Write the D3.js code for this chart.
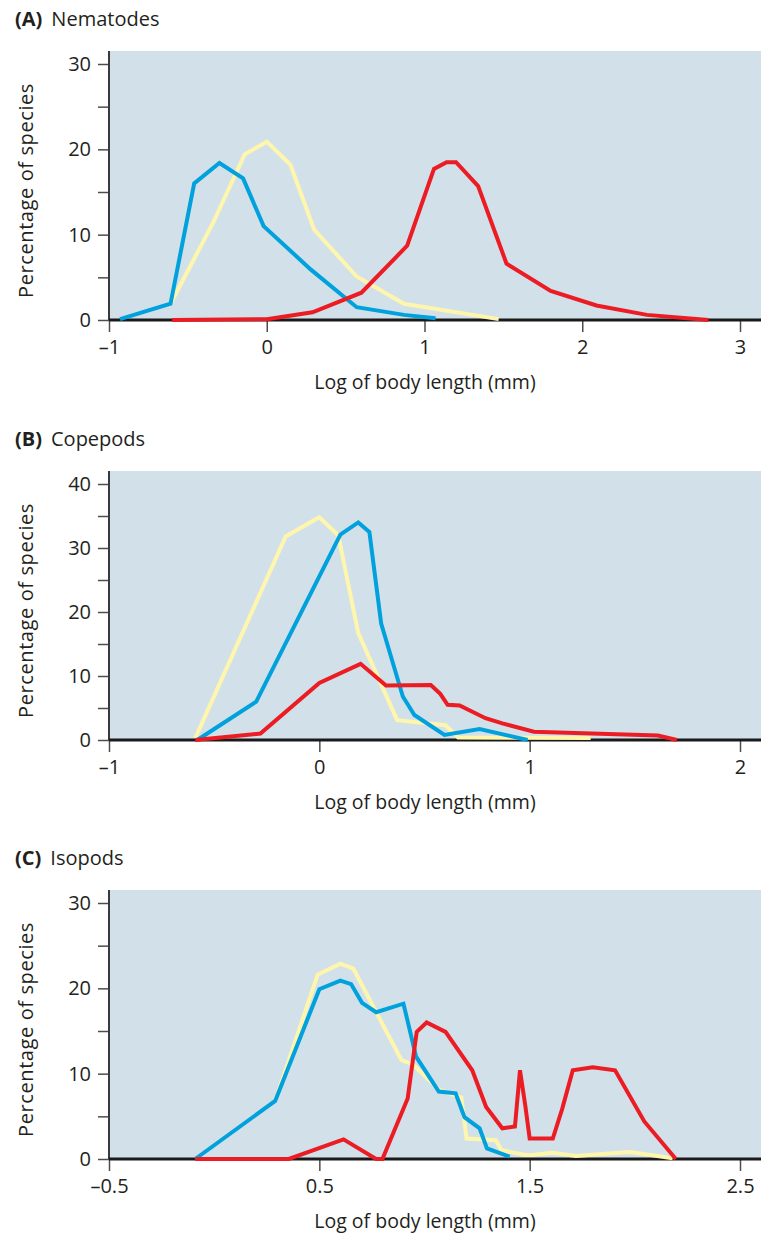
<!DOCTYPE html>
<html lang="en">
<head>
<meta charset="UTF-8">
<title>Body length distributions</title>
<script src="https://d3js.org/d3.v7.min.js"></script>
<style>
  body { margin: 0; background: #fff; }
  svg { display: block; font-family: "Open Sans", "Noto Sans", sans-serif; }
  .tick text { font-size: 20px; fill: #231f20; font-family: "Open Sans", sans-serif; }
</style>
</head>
<body>
<svg id="chart" width="761" height="1234"></svg>
<script>
// ---- data: [log body length (mm), % of species] ----

// (A) Nematodes
var nemaYellow = [[-0.61,1.9],[-0.34,11.4],[-0.14,19.4],[0,20.9],[0.15,18.2],[0.30,10.6],[0.57,5.1],[0.87,1.9],[1.47,0.1]];
var nemaBlue = [[-0.93,0.1],[-0.61,1.9],[-0.46,16.0],[-0.30,18.4],[-0.15,16.6],[-0.02,11.0],[0.28,5.9],[0.57,1.5],[0.87,0.6],[1.07,0.2]];
var nemaRed = [[-0.60,0],[0,0.1],[0.29,0.9],[0.60,3.2],[0.89,8.7],[1.06,17.7],[1.14,18.5],[1.20,18.5],[1.34,15.7],[1.52,6.6],[1.80,3.4],[2.09,1.7],[2.41,0.6],[2.80,0]];

// (B) Copepods
var copeYellow = [[-0.59,0.3],[-0.16,31.8],[0,34.8],[0.09,32.0],[0.185,16.7],[0.37,3.1],[0.60,2.3],[0.66,0.4],[1.29,0.3]];
var copeBlue = [[-0.58,0],[-0.30,6.0],[0.10,32.1],[0.185,34.0],[0.238,32.5],[0.294,18.2],[0.397,6.8],[0.452,3.9],[0.595,0.8],[0.762,1.7],[0.99,0]];
var copeRed = [[-0.59,0],[-0.28,1.0],[0,8.9],[0.196,11.9],[0.317,8.5],[0.53,8.6],[0.575,7.2],[0.61,5.5],[0.667,5.4],[0.79,3.4],[0.87,2.6],[1.02,1.3],[1.61,0.7],[1.70,0]];

// (C) Isopods
var isoYellow = [[0.29,6.8],[0.492,21.6],[0.60,22.9],[0.662,22.3],[0.89,11.6],[0.944,11.1],[1.07,8.1],[1.175,7.2],[1.20,2.4],[1.34,2.2],[1.365,1.05],[1.48,0.47],[1.514,0.47],[1.606,0.74],[1.72,0.35],[1.976,0.82],[2.18,0.08]];
var isoBlue = [[-0.09,0],[0.29,6.8],[0.50,19.9],[0.60,20.9],[0.651,20.5],[0.703,18.3],[0.77,17.2],[0.90,18.2],[0.96,12.0],[1.068,7.9],[1.148,7.7],[1.19,4.9],[1.262,3.6],[1.297,1.25],[1.405,0.27]];
var isoRed = [[-0.09,0],[0.355,0],[0.615,2.3],[0.77,0],[0.80,0],[0.92,7.1],[0.963,14.9],[1.01,16.0],[1.10,14.9],[1.227,10.4],[1.293,6.1],[1.37,3.6],[1.43,3.8],[1.454,10.4],[1.479,6.3],[1.50,2.4],[1.61,2.4],[1.655,5.9],[1.705,10.4],[1.80,10.75],[1.906,10.4],[2.045,4.4],[2.195,0]];

// tick values
var xTicksA = [-1, 0, 1, 2, 3];
var xTicksB = [-1, 0, 1, 2];
var xTicksC = [-0.5, 0.5, 1.5, 2.5];
var yTicks30 = [0, 5, 10, 15, 20, 25, 30];
var yTicks40 = [0, 5, 10, 15, 20, 25, 30, 35, 40];

var colors = {yellow: '#fff6ad', blue: '#00a1dd', red: '#ec1c24'};

var panels = [
    {letter: '(A)', name: 'Nematodes', top: 51, zero: 320, xDomain: [-1, 3], xTicks: xTicksA, yMax: 30, yTicks: yTicks30,
     series: [{d: nemaYellow, c: colors.yellow}, {d: nemaBlue, c: colors.blue}, {d: nemaRed, c: colors.red}]},
    {letter: '(B)', name: 'Copepods', top: 471, zero: 740, xDomain: [-1, 2], xTicks: xTicksB, yMax: 40, yTicks: yTicks40,
     series: [{d: copeYellow, c: colors.yellow}, {d: copeBlue, c: colors.blue}, {d: copeRed, c: colors.red}]},
    {letter: '(C)', name: 'Isopods', top: 890, zero: 1159, xDomain: [-0.5, 2.5], xTicks: xTicksC, yMax: 30, yTicks: yTicks30,
     series: [{d: isoYellow, c: colors.yellow}, {d: isoBlue, c: colors.blue}, {d: isoRed, c: colors.red}]}
];

var svg = d3.select('#chart');
var left = 109, right = 761, xEnd = 740;

function dash(v) {
    // en dash for negatives like the print figure
    return String(v).replace('-', '\u2013');
}

panels.forEach(function(p) {
    var g = svg.append('g');
    var yTopVal = p.yMax === 40 ? 484 : p.zero - 256; // top tick position
    var x = d3.scaleLinear().domain(p.xDomain).range([left, xEnd]);
    var y = d3.scaleLinear().domain([0, p.yMax]).range([p.zero, yTopVal]);

    // background
    g.append('rect')
        .attr('x', left).attr('y', p.top)
        .attr('width', right - left).attr('height', p.zero - p.top)
        .attr('fill', '#d2e1e9');

    // title
    var t = g.append('text').attr('x', 15).attr('y', p.top - 25)
        .style('font-size', '20px').style('fill', '#231f20');
    t.append('tspan').attr('font-weight', 'bold').text(p.letter);
    t.append('tspan').attr('dx', 9).text(p.name);

    // y axis
    var yAxis = d3.axisLeft(y).tickValues(p.yTicks).tickSize(11).tickPadding(7)
        .tickFormat(function(d) { return d % 10 === 0 ? d : ''; });
    var ya = g.append('g').attr('transform', 'translate(' + left + ',0)').call(yAxis);
    ya.select('.domain').remove();
    ya.selectAll('.tick line').attr('stroke', '#4d4d4f').attr('stroke-width', 1.5);
    g.append('line').attr('x1', left).attr('x2', left).attr('y1', p.top).attr('y2', p.zero)
        .attr('stroke', '#3a3a3c').attr('stroke-width', 2);

    // x axis
    var xAxis = d3.axisBottom(x).tickValues(p.xTicks).tickSize(12).tickPadding(8).tickFormat(dash);
    var xa = g.append('g').attr('transform', 'translate(0,' + p.zero + ')').call(xAxis);
    xa.select('.domain').remove();
    xa.selectAll('.tick line').attr('stroke', '#4d4d4f').attr('stroke-width', 1.5);
    g.append('line').attr('x1', left).attr('x2', right).attr('y1', p.zero).attr('y2', p.zero)
        .attr('stroke', '#1a1a1a').attr('stroke-width', 3);

    // lines
    var line = d3.line().x(function(d) { return x(d[0]); }).y(function(d) { return y(d[1]); });
    p.series.forEach(function(s) {
        g.append('path').datum(s.d)
            .attr('d', line)
            .attr('fill', 'none')
            .attr('stroke', s.c)
            .attr('stroke-width', 4)
            .attr('stroke-linejoin', 'miter');
    });

    // axis titles
    g.append('text')
        .attr('x', 425).attr('y', p.zero + 69)
        .attr('text-anchor', 'middle')
        .style('font-size', '19.5px').style('fill', '#231f20')
        .text('Log of body length (mm)');
    g.append('text')
        .attr('transform', 'translate(33,' + ((p.top + p.zero) / 2 + 5) + ') rotate(-90)')
        .attr('text-anchor', 'middle')
        .style('font-size', '20px').style('letter-spacing', '0.6px').style('fill', '#231f20')
        .text('Percentage of species');
});
</script>
</body>
</html>
